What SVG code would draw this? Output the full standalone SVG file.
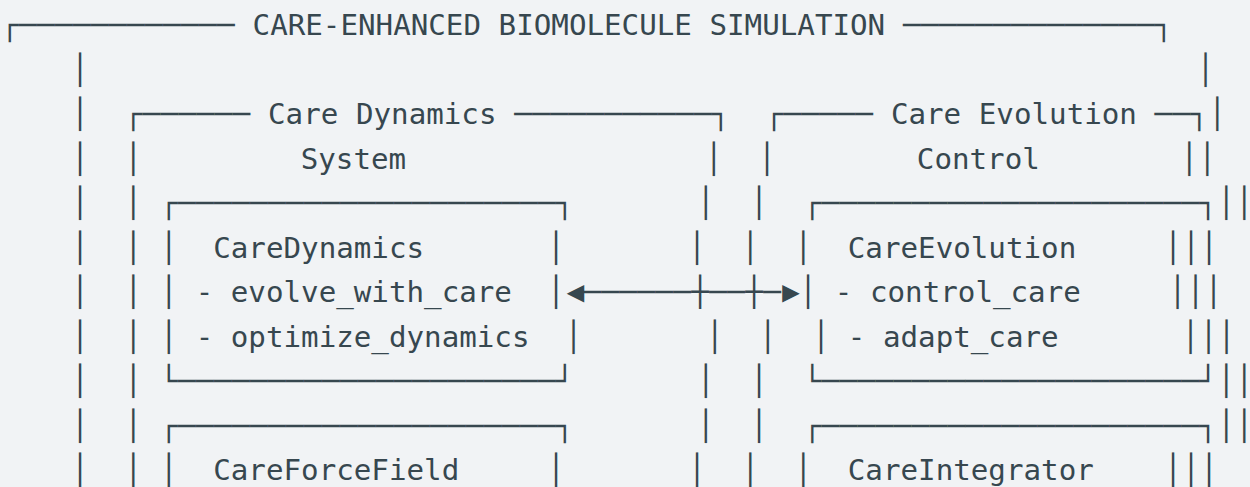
<svg xmlns="http://www.w3.org/2000/svg" width="1250" height="487" viewBox="0 0 1250 487">
<style>
text{font-family:"DejaVu Sans Mono","Liberation Mono",monospace;font-size:29.2px;fill:#37474f;white-space:pre}
.b{letter-spacing:0.42px}
.arr{font-family:"Liberation Sans",Arial,sans-serif}
</style>
<rect width="1250" height="487" fill="#f1f3f5"/>
<g id="outer-frame">
<text class="b" x="1" y="35">┌────────────</text>
<text x="252.58" y="35">CARE-ENHANCED BIOMOLECULE SIMULATION</text>
<text class="b" x="903.04" y="35">──────────────┐</text>
<text x="71.32" y="79.5">│</text><text x="71.32" y="124">│</text><text x="71.32" y="168.5">│</text><text x="71.32" y="213">│</text><text x="71.32" y="257.5">│</text><text x="71.32" y="302">│</text><text x="71.32" y="346.5">│</text><text x="71.32" y="391">│</text><text x="71.32" y="435.5">│</text><text x="71.32" y="480">│</text>
<text x="1196.86" y="79.5">│</text><text x="1208.62" y="124">│</text><text x="1198.54" y="168.5">│</text><text x="1235.44" y="213">│</text><text x="1200.22" y="257.5">│</text><text x="1204.84" y="302">│</text><text x="1217.8" y="346.5">│</text><text x="1235.44" y="391">│</text><text x="1235.44" y="435.5">│</text><text x="1200.22" y="480">│</text>
</g>
<g id="care-dynamics-system">
<text class="b" x="124.48" y="124">┌──────</text>
<text x="268.06" y="124">Care Dynamics</text>
<text class="b" x="514.18" y="124">───────────┐</text>
<text x="300.7" y="168.5">System</text>
<text x="124.48" y="168.5">│</text><text x="124.48" y="213">│</text><text x="124.48" y="257.5">│</text><text x="124.48" y="302">│</text><text x="124.48" y="346.5">│</text><text x="124.48" y="391">│</text><text x="124.48" y="435.5">│</text><text x="124.48" y="480">│</text>
<text x="705.04" y="168.5">│</text><text x="697.12" y="213">│</text><text x="688.3" y="257.5">│</text><text x="705.88" y="346.5">│</text><text x="697.12" y="391">│</text><text x="697.12" y="435.5">│</text><text x="688.3" y="480">│</text>
</g>
<g id="care-evolution-control">
<text class="b" x="765.34" y="124">┌─────</text>
<text x="890.92" y="124">Care Evolution</text>
<text class="b" x="1154.62" y="124">──┐</text>
<text x="916.84" y="168.5">Control</text>
<text x="758.2" y="168.5">│</text><text x="750.28" y="213">│</text><text x="741.46" y="257.5">│</text><text x="759.04" y="346.5">│</text><text x="750.28" y="391">│</text><text x="750.28" y="435.5">│</text><text x="741.46" y="480">│</text>
<text x="1180.54" y="168.5">│</text><text x="1217.44" y="213">│</text><text x="1182.22" y="257.5">│</text><text x="1186.84" y="302">│</text><text x="1199.8" y="346.5">│</text><text x="1217.44" y="391">│</text><text x="1217.44" y="435.5">│</text><text x="1182.22" y="480">│</text>
</g>
<g id="care-dynamics">
<text class="b" x="160.06" y="213">┌─────────────────────┐</text>
<text x="160.06" y="257.5">│</text><text x="160.06" y="302">│</text><text x="160.06" y="346.5">│</text>
<text x="213.22" y="257.5">CareDynamics</text>
<text x="195.64" y="302">- evolve_with_care</text>
<text x="195.64" y="346.5">- optimize_dynamics</text>
<text x="547.24" y="257.5">│</text><text x="547.24" y="302">│</text><text x="564.82" y="346.5">│</text>
<text class="b" x="160.06" y="391">└─────────────────────┘</text>
</g>
<g id="care-evolution">
<text class="b" x="803.44" y="213">┌─────────────────────┐</text>
<text x="794.62" y="257.5">│</text><text x="799.24" y="302">│</text><text x="812.2" y="346.5">│</text>
<text x="847.78" y="257.5">CareEvolution</text>
<text x="834.82" y="302">- control_care</text>
<text x="847.78" y="346.5">- adapt_care</text>
<text x="1164.22" y="257.5">│</text><text x="1168.84" y="302">│</text><text x="1181.8" y="346.5">│</text>
<text class="b" x="803.44" y="391">└─────────────────────┘</text>
</g>
<g id="care-force-field">
<text class="b" x="160.06" y="435.5">┌─────────────────────┐</text>
<text x="160.06" y="480">│</text>
<text x="213.22" y="480">CareForceField</text>
<text x="547.24" y="480">│</text>
</g>
<g id="care-integrator">
<text class="b" x="803.44" y="435.5">┌─────────────────────┐</text>
<text x="794.62" y="480">│</text>
<text x="847.78" y="480">CareIntegrator</text>
<text x="1164.22" y="480">│</text>
</g>
<g id="connectors">
<text class="arr" x="560.95" y="302">◄</text>
<text class="b" x="583.24" y="302">──────┼──┼─</text>
<text class="arr" x="776.5" y="302">►</text>
</g>
</svg>
